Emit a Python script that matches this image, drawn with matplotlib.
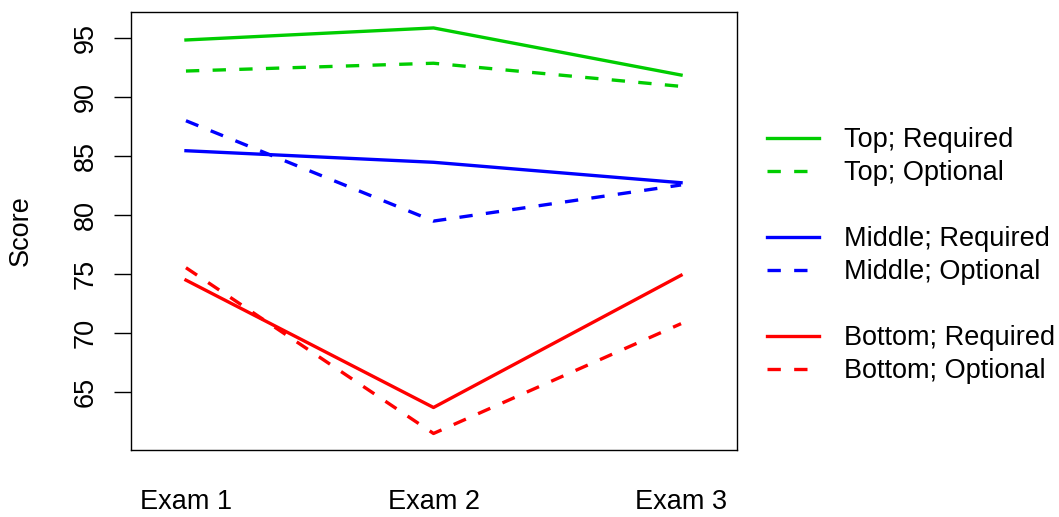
import matplotlib
matplotlib.use("Agg")
import matplotlib.pyplot as plt
from matplotlib.lines import Line2D

plt.rcParams['font.family'] = ['Liberation Sans', 'DejaVu Sans']

exams = ["Exam 1", "Exam 2", "Exam 3"]
top_required = [94.83, 95.85, 91.86]
top_optional = [92.2, 92.86, 90.9]
middle_required = [85.45, 84.47, 82.74]
middle_optional = [87.99, 79.49, 82.55]
bottom_required = [74.49, 63.7, 74.9]
bottom_optional = [75.54, 61.5, 70.8]
yticks = [65, 70, 75, 80, 85, 90, 95]

series = [
    ("Top; Required", top_required, "#00CD00", "-"),
    ("Top; Optional", top_optional, "#00CD00", "--"),
    ("Middle; Required", middle_required, "#0000FF", "-"),
    ("Middle; Optional", middle_optional, "#0000FF", "--"),
    ("Bottom; Required", bottom_required, "#FF0000", "-"),
    ("Bottom; Optional", bottom_optional, "#FF0000", "--"),
]

fig = plt.figure(figsize=(10.59, 5.17), dpi=100)
ax = fig.add_axes([131/1059, 1 - 450/517, (737 - 131)/1059, (450 - 12)/517])

xs = [1, 2, 3]
lines = {}
for label, vals, color, ls in series:
    ln, = ax.plot(xs, vals, color=color, linestyle=ls, linewidth=2.4,
                  dashes=(4, 4) if ls == "--" else (None, None), label=label)
    lines[label] = ln

ax.set_xlim(0.778, 3.226)
ax.set_ylim(60.1, 97.2)
ax.set_xticks(xs)
ax.set_xticklabels(exams, fontsize=19.5)
ax.tick_params(axis='x', length=0, pad=28)
ax.set_yticks(yticks)
ax.set_yticklabels([str(v) for v in yticks], fontsize=19.5, rotation=90, va='center')
ax.tick_params(axis='y', length=12, width=1, pad=11)
for sp in ax.spines.values():
    sp.set_linewidth(1.0)
    sp.set_color('black')
ax.set_ylabel("Score", fontsize=19.5)
ax.yaxis.set_label_coords(-(131 - 34) / 606, 0.5)

blank = Line2D([], [], color='none')
handles, labels = [], []
order = [s[0] for s in series]
for i, lab in enumerate(order):
    handles.append(lines[lab])
    labels.append(lab)
    if i in (1, 3):
        handles.append(blank)
        labels.append("")
leg = fig.legend(handles, labels, loc='upper left',
                 bbox_to_anchor=(767/1059, 1 - 127/517), frameon=False,
                 fontsize=19.5, handlelength=1.93, handletextpad=0.9,
                 borderpad=0, borderaxespad=0, labelspacing=0.26)

fig.savefig("out.png", dpi=100)
